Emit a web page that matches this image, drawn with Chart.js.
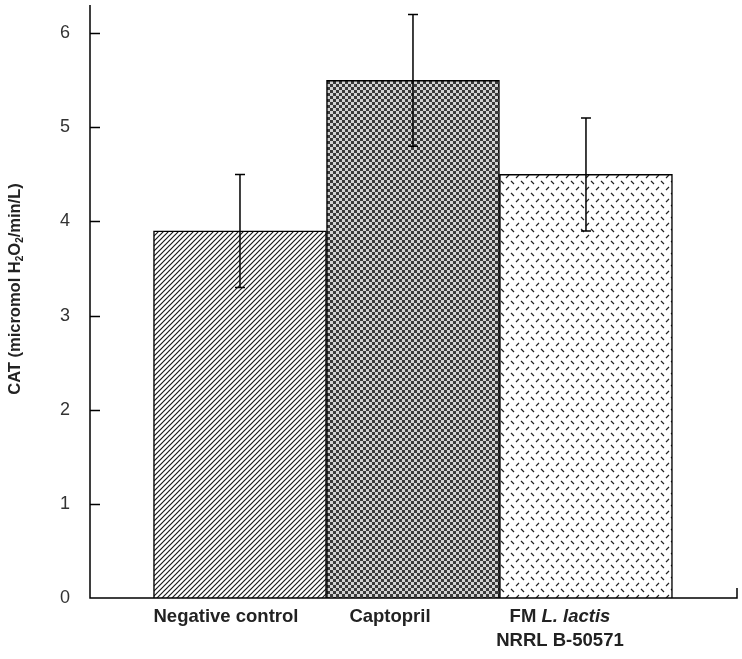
<!DOCTYPE html>
<html>
<head>
<meta charset="utf-8">
<script src="https://cdn.jsdelivr.net/npm/chart.js@4.4.1/dist/chart.umd.min.js"></script>
<style>
html,body{margin:0;padding:0;background:#fff;}
#wrap{width:742px;height:659px;position:relative;}
</style>
</head>
<body>
<div id="wrap"><canvas id="c" width="742" height="659"></canvas></div>
<script>
// ---- data ----
const categories = ["Negative control", "Captopril", "FM L. lactis NRRL B-50571"];
const means = [3.9, 5.5, 4.5];
const errors = [0.6, 0.7, 0.6];
const yTicks = [0, 1, 2, 3, 4, 5, 6];
const positions = [1, 2, 3];

// ---- patterns ----
function makeTile(w, h, draw) {
  const c = document.createElement('canvas');
  c.width = w; c.height = h;
  const g = c.getContext('2d');
  g.fillStyle = '#fff'; g.fillRect(0, 0, w, h);
  draw(g);
  return document.getElementById('c').getContext('2d').createPattern(c, 'repeat');
}
const hatch = makeTile(5, 5, g => {
  g.strokeStyle = '#1a1a1a'; g.lineWidth = 1.2;
  g.beginPath();
  g.moveTo(-1, 6); g.lineTo(6, -1);
  g.moveTo(-1, 1); g.lineTo(1, -1);
  g.moveTo(4, 6); g.lineTo(6, 4);
  g.stroke();
});
const checker = makeTile(6, 6, g => {
  g.fillStyle = '#d2d2d2'; g.fillRect(0, 0, 6, 6);
  g.fillStyle = '#3a3a3a';
  g.fillRect(0, 0, 3, 3); g.fillRect(3, 3, 3, 3);
});
const dashes = makeTile(10, 12, g => {
  g.strokeStyle = '#222'; g.lineWidth = 1.2;
  g.beginPath();
  g.moveTo(1, 1); g.lineTo(4, 4);
  g.moveTo(6, 10); g.lineTo(9, 7);
  g.stroke();
});
const fills = [hatch, checker, dashes];

// ---- plugin: axes ticks, error bars, labels ----
const decor = {
  id: 'decor',
  afterDatasetsDraw(chart) {
    const ctx = chart.ctx;
    const xs = chart.scales.x, ys = chart.scales.y;
    const area = chart.chartArea;
    ctx.save();
    // error bars
    ctx.strokeStyle = '#000'; ctx.lineWidth = 1.5;
    means.forEach((m, i) => {
      const x = xs.getPixelForValue(positions[i]);
      const yt = ys.getPixelForValue(m + errors[i]);
      const yb = ys.getPixelForValue(m - errors[i]);
      ctx.beginPath();
      ctx.moveTo(x, yt); ctx.lineTo(x, yb);
      ctx.moveTo(x - 5, yt); ctx.lineTo(x + 5, yt);
      ctx.moveTo(x - 5, yb); ctx.lineTo(x + 5, yb);
      ctx.stroke();
    });
    // axes
    ctx.lineWidth = 1.5;
    ctx.beginPath();
    ctx.moveTo(area.left, area.top); ctx.lineTo(area.left, area.bottom);
    ctx.lineTo(area.right, area.bottom); ctx.lineTo(area.right, area.bottom - 10);
    yTicks.forEach(v => {
      const y = Math.round(ys.getPixelForValue(v)) + 0.5;
      if (v > 0) { ctx.moveTo(area.left, y); ctx.lineTo(area.left + 10, y); }
    });
    ctx.stroke();
    // x labels
    ctx.fillStyle = '#222';
    ctx.textAlign = 'center'; ctx.textBaseline = 'middle';
    const bold = 'bold 18.5px "Liberation Sans", Arial, sans-serif';
    const boldIt = 'italic bold 18.5px "Liberation Sans", Arial, sans-serif';
    ctx.font = bold;
    let x0 = xs.getPixelForValue(positions[0]) - 14;
    ctx.fillText(categories[0], x0, 617);
    let x1 = xs.getPixelForValue(positions[1]) - 23;
    ctx.fillText(categories[1], x1, 617);
    // third: "FM L. lactis" / "NRRL B-50571"
    const x2 = xs.getPixelForValue(positions[2]) - 26;
    const partA = 'FM ', partB = 'L. lactis';
    ctx.font = bold; const wA = ctx.measureText(partA).width;
    ctx.font = boldIt; const wB = ctx.measureText(partB).width;
    let sx = x2 - (wA + wB) / 2;
    ctx.textAlign = 'left';
    ctx.font = bold; ctx.fillText(partA, sx, 617);
    ctx.font = boldIt; ctx.fillText(partB, sx + wA, 617);
    ctx.textAlign = 'center'; ctx.font = bold;
    ctx.fillText('NRRL B-50571', x2, 641);
    // y title with subscripts
    ctx.translate(15, 289);
    ctx.rotate(-Math.PI / 2);
    const segs = [['CAT (micromol H', 0], ['2', 1], ['O', 0], ['2', 1], ['/min/L)', 0]];
    const fMain = 'bold 16.5px "Liberation Sans", Arial, sans-serif';
    const fSub = 'bold 10px "Liberation Sans", Arial, sans-serif';
    let total = 0;
    segs.forEach(s => { ctx.font = s[1] ? fSub : fMain; total += ctx.measureText(s[0]).width; });
    let px = -total / 2;
    ctx.textAlign = 'left'; ctx.textBaseline = 'alphabetic';
    segs.forEach(s => {
      ctx.font = s[1] ? fSub : fMain;
      ctx.fillText(s[0], px, s[1] ? 8 : 5);
      px += ctx.measureText(s[0]).width;
    });
    ctx.restore();
  }
};

new Chart(document.getElementById('c'), {
  type: 'bar',
  data: {
    datasets: [{
      data: positions.map((p, i) => ({ x: p, y: means[i] })),
      backgroundColor: fills,
      borderColor: '#000',
      borderWidth: 1.5,
      borderSkipped: 'bottom',
      categoryPercentage: 1,
      barPercentage: 1
    }]
  },
  options: {
    responsive: false,
    animation: false,
    events: [],
    layout: { padding: { top: 5, right: 5, left: 0, bottom: 0 } },
    plugins: { legend: { display: false }, tooltip: { enabled: false } },
    scales: {
      x: {
        type: 'linear',
        offset: false,
        min: 0.133,
        max: 3.873,
        grid: { display: false },
        border: { display: false },
        ticks: { display: false },
        afterBuildTicks(s) { s.ticks = positions.map(v => ({ value: v })); },
        afterFit(s) { s.height = 61; s.paddingLeft = 0; s.paddingRight = 0; }
      },
      y: {
        min: 0,
        max: 6.3,
        grid: { display: false },
        border: { display: false },
        afterBuildTicks(s) { s.ticks = yTicks.map(v => ({ value: v })); },
        ticks: {
          padding: 12,
          color: '#333',
          font: { family: '"Liberation Sans", Arial, sans-serif', size: 18 }
        },
        afterFit(s) { s.width = 90; s.paddingTop = 0; s.paddingBottom = 0; }
      }
    }
  },
  plugins: [decor]
});
</script>
</body>
</html>
